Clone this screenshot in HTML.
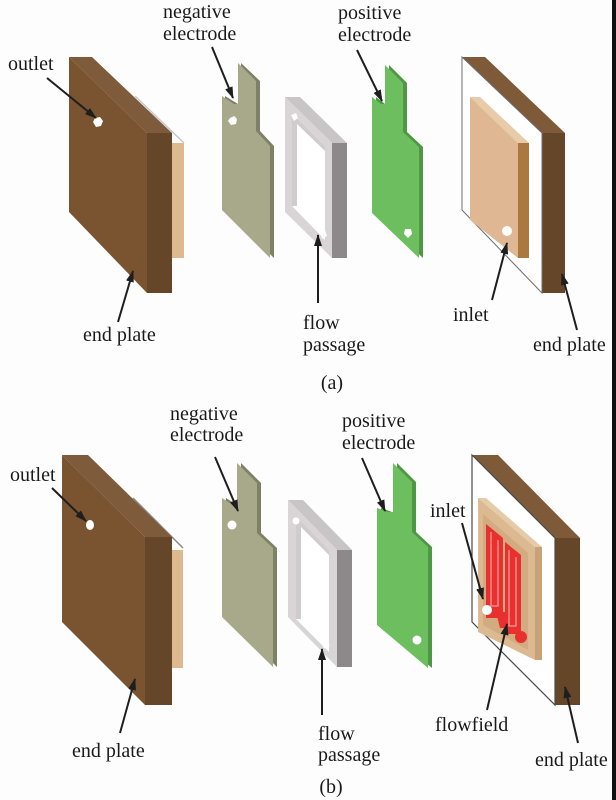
<!DOCTYPE html>
<html>
<head>
<meta charset="utf-8">
<style>
  html, body { margin: 0; padding: 0; background: #fdfdfd; }
  svg { display: block; }
  text { font-family: "Liberation Serif", "DejaVu Serif", serif; font-size: 20px; fill: #1a1a1a; }
</style>
</head>
<body>
<svg width="616" height="800" viewBox="0 0 616 800" xmlns="http://www.w3.org/2000/svg">
  <defs>
    <marker id="ah" markerUnits="userSpaceOnUse" markerWidth="12" markerHeight="8" refX="11" refY="4" orient="auto">
      <path d="M0,0 L12,4 L0,8 z" fill="#1e1e1e"/>
    </marker>
  </defs>
  <rect x="0" y="0" width="616" height="800" fill="#fdfdfd"/>

  <!-- ================= PANEL (a) ================= -->
  <rect x="172" y="143" width="12" height="115" fill="#dcb98f"/>
  <line x1="135" y1="96" x2="184" y2="143" stroke="#c8c8c8" stroke-width="1.5"/>
  <polygon points="69,57 92,57 172,133 147,133" fill="#7e5b3a"/>
  <polygon points="147,133 172,133 172,293 147,293" fill="#664629"/>
  <polygon points="69,57 147,133 147,293 69,212" fill="#7a5431"/>
  <polygon points="95,118 100,117 103,121 101,126 96,127 93,122" fill="#ffffff"/>

  <polygon points="241,63 260,81 260,131 274,146 274,258 225,210 225,96 238,104 241,104" fill="#7f8166"/>
  <polygon points="238,63 256,81 256,131 270,146 270,258 222,210 222,96 234,104 238,104" fill="#a8a98a"/>
  <polygon points="230,118 234,116 237,119 236,124 231,125 228,121" fill="#ffffff"/>

  <polygon points="285,97 300,97 347,143 332,143" fill="#c9c5c6"/>
  <polygon points="332,143 347,143 347,258 332,258" fill="#8d898a"/>
  <polygon points="285,97 332,143 332,258 285,212" fill="#d9d5d6"/>
  <polygon points="292,113 325,146 325,240 292,206" fill="#ffffff"/>
  <polygon points="292,113 325,146 325,151 297,124 297,206 292,206" fill="#d0cccd"/>
  <polygon points="291,115 296,113 298,118 294,121" fill="#ffffff"/>
  <polygon points="320,232 325,230 327,236 322,239" fill="#ffffff"/>

  <polygon points="389,65 407,83 407,132 423,147 423,258 376,213 376,97 385,104 389,104" fill="#4e9844"/>
  <polygon points="385,65 403,83 403,132 419,147 419,258 372,213 372,97 381,104 385,104" fill="#6dbe5f"/>
  <polygon points="405,229 411,229 412,234 408,238 404,234" fill="#ffffff"/>

  <polygon points="462,57 485,57 565,133 542,133" fill="#7e5a38"/>
  <polygon points="542,133 565,133 565,293 542,293" fill="#664629"/>
  <polygon points="462,57 542,133 542,293 462,210" fill="#ffffff" stroke="#6e6e6e" stroke-width="1"/>
  <polygon points="470,97 480,97 529,143 518,143" fill="#e8cba8"/>
  <polygon points="518,143 529,143 529,258 518,258" fill="#a9793f"/>
  <polygon points="470,97 518,143 518,258 470,220" fill="#dfb893"/>
  <circle cx="507" cy="231" r="5" fill="#ffffff"/>

  <line x1="47" y1="78" x2="96" y2="118" stroke="#1e1e1e" stroke-width="2" marker-end="url(#ah)"/>
  <line x1="118" y1="322" x2="133" y2="271" stroke="#1e1e1e" stroke-width="2" marker-end="url(#ah)"/>
  <line x1="212" y1="47" x2="233" y2="98" stroke="#1e1e1e" stroke-width="2" marker-end="url(#ah)"/>
  <line x1="318" y1="303" x2="318" y2="235" stroke="#1e1e1e" stroke-width="2" marker-end="url(#ah)"/>
  <line x1="357" y1="50" x2="382" y2="101" stroke="#1e1e1e" stroke-width="2" marker-end="url(#ah)"/>
  <line x1="492" y1="300" x2="507" y2="243" stroke="#1e1e1e" stroke-width="2" marker-end="url(#ah)"/>
  <line x1="577" y1="330" x2="562" y2="274" stroke="#1e1e1e" stroke-width="2" marker-end="url(#ah)"/>

  <text x="8" y="70">outlet</text>
  <text x="163" y="18">negative</text>
  <text x="163" y="40">electrode</text>
  <text x="338" y="19">positive</text>
  <text x="338" y="41">electrode</text>
  <text x="83" y="341">end plate</text>
  <text x="303" y="329">flow</text>
  <text x="303" y="351">passage</text>
  <text x="453" y="321">inlet</text>
  <text x="533" y="351">end plate</text>
  <text x="332" y="389" text-anchor="middle">(a)</text>

  <!-- ================= PANEL (b) ================= -->
  <rect x="172" y="550" width="11" height="118" fill="#dcb98f"/>
  <line x1="133" y1="498" x2="183" y2="548" stroke="#8a8a8a" stroke-width="1.5"/>
  <polygon points="62,455 88,455 172,537 145,537" fill="#7e5b3a"/>
  <polygon points="145,537 172,537 172,705 145,705" fill="#664629"/>
  <polygon points="62,455 145,537 145,705 62,622" fill="#7a5431"/>
  <ellipse cx="90" cy="525" rx="4" ry="5" fill="#ffffff"/>

  <polygon points="241,463 261,483 261,533 277,548 277,667 226,617 226,498 237,505 241,505" fill="#7f8166"/>
  <polygon points="237,463 257,483 257,533 273,548 273,667 222,617 222,498 233,505 237,505" fill="#a8a98a"/>
  <circle cx="232" cy="525" r="4.5" fill="#ffffff"/>

  <polygon points="288,500 303,500 352,550 337,550" fill="#c9c5c6"/>
  <polygon points="337,550 352,550 352,667 337,667" fill="#8d898a"/>
  <polygon points="288,500 337,550 337,667 288,617" fill="#d9d5d6"/>
  <polygon points="296,516 329,550 329,652 296,619" fill="#ffffff"/>
  <polygon points="296,516 329,550 329,555 301,527 301,619 296,619" fill="#d0cccd"/>
  <circle cx="296" cy="521" r="3.5" fill="#ffffff"/>
  <circle cx="326" cy="645" r="3.5" fill="#ffffff"/>

  <polygon points="397,463 416,482 416,532 432,547 432,668 381,625 381,508 392,512 397,512" fill="#4e9844"/>
  <polygon points="393,463 412,482 412,532 428,547 428,668 377,625 377,508 388,512 393,512" fill="#6dbe5f"/>
  <circle cx="417" cy="640" r="4.5" fill="#ffffff"/>

  <polygon points="472,455 498,455 580,538 555,538" fill="#7e5a38"/>
  <polygon points="555,538 580,538 580,705 555,705" fill="#664629"/>
  <polygon points="472,455 555,538 555,705 472,622" fill="#ffffff" stroke="#4a4a4a" stroke-width="1.2"/>
  <polygon points="478,498 486,498 542,547 535,547" fill="#e6cba8"/>
  <polygon points="535,547 542,547 542,660 535,660" fill="#c9a378"/>
  <polygon points="478,498 535,547 535,660 478,632" fill="#dcb991"/>
  <polygon points="483,514 528,553 528,650 483,625" fill="#d2ab80"/>
  <!-- red flowfield -->
  <polygon points="486,524 503,538 503,618 486,618" fill="#e8302e"/>
  <polygon points="505,542 521,555 521,634 505,634" fill="#e8302e"/>
  <polygon points="496,612 512,612 512,628 500,628" fill="#e8302e"/>
  <circle cx="521" cy="637" r="6" fill="#e8302e"/>
  <polyline points="491,532 491,606 498,606 498,540" fill="none" stroke="#f29a98" stroke-width="1.3"/>
  <polyline points="509,550 509,626 516,626 516,557" fill="none" stroke="#f29a98" stroke-width="1.3"/>
  <circle cx="487" cy="610" r="5" fill="#ffffff"/>

  <line x1="52" y1="488" x2="86" y2="521" stroke="#1e1e1e" stroke-width="2" marker-end="url(#ah)"/>
  <line x1="120" y1="733" x2="135" y2="679" stroke="#1e1e1e" stroke-width="2" marker-end="url(#ah)"/>
  <line x1="215" y1="457" x2="238" y2="511" stroke="#1e1e1e" stroke-width="2" marker-end="url(#ah)"/>
  <line x1="322" y1="715" x2="322" y2="649" stroke="#1e1e1e" stroke-width="2" marker-end="url(#ah)"/>
  <line x1="362" y1="458" x2="385" y2="511" stroke="#1e1e1e" stroke-width="2" marker-end="url(#ah)"/>
  <line x1="462" y1="523" x2="483" y2="599" stroke="#1e1e1e" stroke-width="2" marker-end="url(#ah)"/>
  <line x1="487" y1="710" x2="507" y2="624" stroke="#1e1e1e" stroke-width="2" marker-end="url(#ah)"/>
  <line x1="578" y1="743" x2="565" y2="687" stroke="#1e1e1e" stroke-width="2" marker-end="url(#ah)"/>

  <text x="10" y="481">outlet</text>
  <text x="170" y="420">negative</text>
  <text x="170" y="441">electrode</text>
  <text x="342" y="427">positive</text>
  <text x="342" y="449">electrode</text>
  <text x="72" y="757">end plate</text>
  <text x="318" y="740">flow</text>
  <text x="318" y="761">passage</text>
  <text x="430" y="517">inlet</text>
  <text x="435" y="731">flowfield</text>
  <text x="535" y="766">end plate</text>
  <text x="331" y="793" text-anchor="middle">(b)</text>

  <rect x="612" y="0" width="4" height="800" fill="#111111"/>
</svg>
</body>
</html>
